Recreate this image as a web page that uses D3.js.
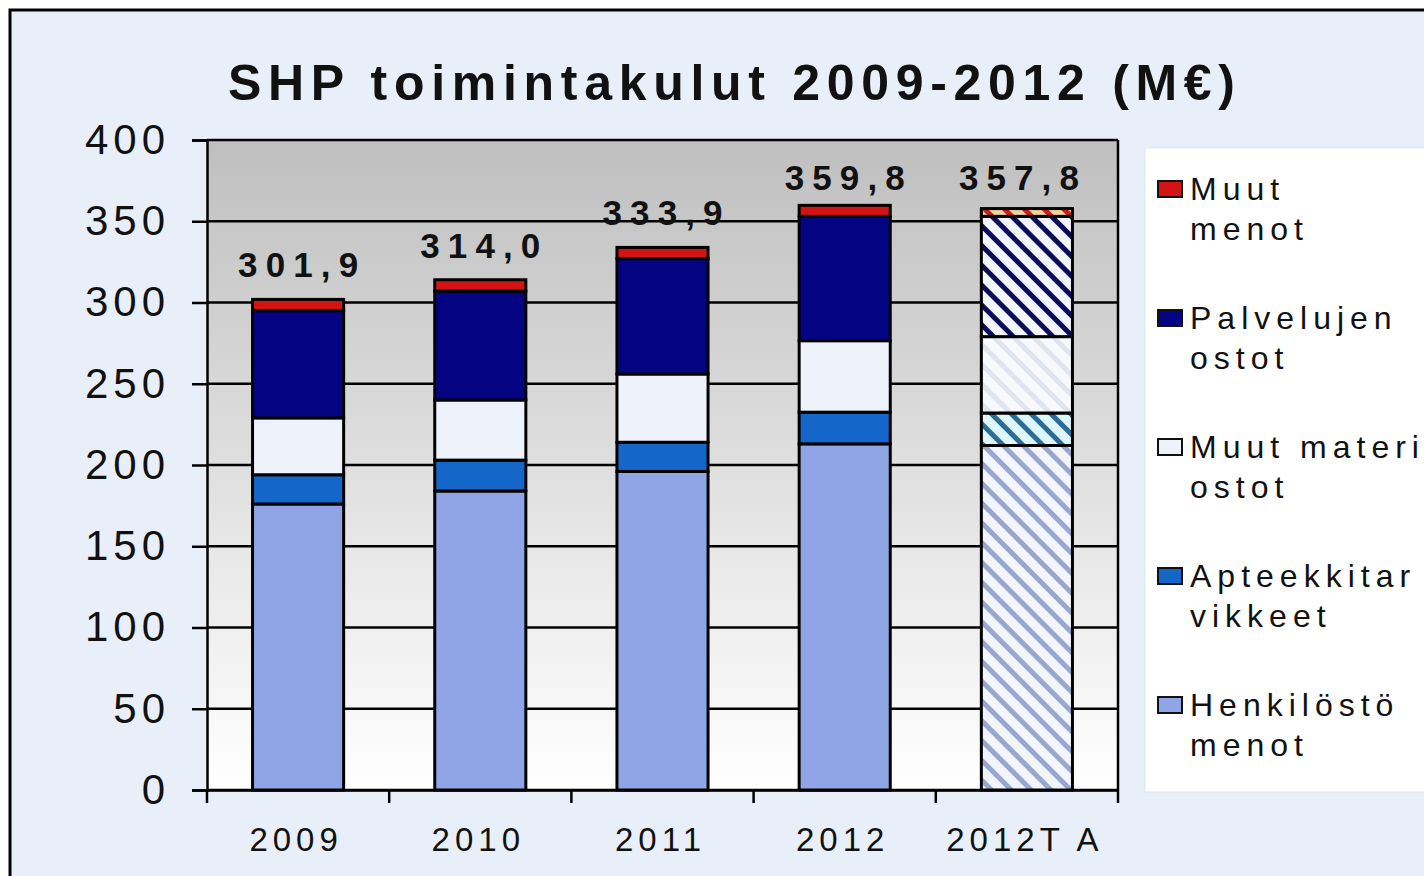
<!DOCTYPE html>
<html>
<head>
<meta charset="utf-8">
<script src="https://cdn.jsdelivr.net/npm/d3@7"></script>
<style>
  html, body { margin: 0; padding: 0; background: #ffffff; overflow: hidden; }
  svg { display: block; font-family: "Liberation Sans", Arial, sans-serif; }
</style>
</head>
<body>
<div id="graph"></div>
<script>
"use strict";
(function() {
    // --- data ---
    const categories = ["2009", "2010", "2011", "2012", "2012TA"];
    const henkilosto = [176, 184, 196, 213, 212];
    const apteekki   = [18, 19, 18, 19.5, 20];
    const muutMat    = [35, 37, 42, 44, 47];
    const palvelujen = [66, 67, 71, 76.5, 74];
    const muutMenot  = [6.9, 7, 6.9, 6.8, 4.8];
    const totals     = [301.9, 314.0, 333.9, 359.8, 357.8];
    const yTicks     = [0, 50, 100, 150, 200, 250, 300, 350, 400];

    const seriesKeys   = ["henk", "apt", "mat", "palv", "muut"];
    const seriesColors = ["#8fa5e6", "#1466c8", "#eef2fb", "#040482", "#d41414"];
    // hatch (stripe, background) used for the budget bar
    const hatchColors  = [["#98a7cf", "#f2f5fc"], ["#2c6c98", "#dcf6fb"], ["#dfe4ef", "#f7f9fd"],
                          ["#0b0b58", "#f3f5fc"], ["#c42020", "#f0d49a"]];
    const legendLines  = [["Muut", "menot"], ["Palvelujen", "ostot"], ["Muut materiaalien", "ostot"],
                          ["Apteekkitar", "vikkeet"], ["Henkilöstö", "menot"]];

    const W = 1424, H = 876;
    const plot = { left: 207, top: 140, right: 1118, bottom: 790 };

    window.addEventListener("load", init);

    function init() {
        const svg = d3.select("#graph").append("svg")
            .attr("width", W).attr("height", H);

        const defs = svg.append("defs");
        const grad = defs.append("linearGradient").attr("id", "plotBg")
            .attr("x1", 0).attr("y1", 0).attr("x2", 0).attr("y2", 1);
        grad.append("stop").attr("offset", "0%").attr("stop-color", "#bfbfbf");
        grad.append("stop").attr("offset", "100%").attr("stop-color", "#ffffff");

        hatchColors.forEach((c, i) => {
            const p = defs.append("pattern").attr("id", "hatch" + i)
                .attr("patternUnits", "userSpaceOnUse")
                .attr("width", 14).attr("height", 14)
                .attr("patternTransform", "rotate(-45)");
            p.append("rect").attr("width", 14).attr("height", 14).attr("fill", c[1]);
            p.append("rect").attr("width", 5).attr("height", 14).attr("fill", c[0]);
        });

        // outer frame
        svg.append("rect").attr("x", 10).attr("y", 10).attr("width", W).attr("height", H)
            .attr("fill", "#e9eff8").attr("stroke", "#000").attr("stroke-width", 3);

        // title
        svg.append("text").attr("x", 228).attr("y", 100)
            .attr("textLength", 1007).attr("lengthAdjust", "spacing")
            .attr("font-size", 50).attr("font-weight", "bold").attr("fill", "#111")
            .text("SHP toimintakulut 2009-2012 (M€)");

        const x = d3.scaleBand().domain(categories)
            .range([plot.left, plot.right]).paddingInner(0.5).paddingOuter(0.25);
        const y = d3.scaleLinear().domain([0, 400]).range([plot.bottom, plot.top]);

        svg.append("rect").attr("x", plot.left).attr("y", plot.top)
            .attr("width", plot.right - plot.left).attr("height", plot.bottom - plot.top)
            .attr("fill", "url(#plotBg)");

        // gridlines
        svg.append("g").selectAll("line").data(yTicks).join("line")
            .attr("x1", plot.left).attr("x2", plot.right)
            .attr("y1", d => y(d)).attr("y2", d => y(d))
            .attr("stroke", "#000").attr("stroke-width", 2.5);
        svg.append("line").attr("x1", plot.right).attr("x2", plot.right)
            .attr("y1", plot.top).attr("y2", plot.bottom)
            .attr("stroke", "#000").attr("stroke-width", 2.5);

        // stacked bars
        const rows = categories.map((c, i) => ({
            cat: c, henk: henkilosto[i], apt: apteekki[i], mat: muutMat[i],
            palv: palvelujen[i], muut: muutMenot[i]
        }));
        const stacked = d3.stack().keys(seriesKeys)(rows);

        svg.append("g").selectAll("g").data(stacked).join("g")
            .each(function(s, si) {
                d3.select(this).selectAll("rect").data(s).join("rect")
                    .attr("x", d => x(d.data.cat))
                    .attr("width", x.bandwidth())
                    .attr("y", d => y(d[1]))
                    .attr("height", d => y(d[0]) - y(d[1]))
                    .attr("fill", d => d.data.cat === "2012TA" ? "url(#hatch" + si + ")" : seriesColors[si])
                    .attr("stroke", "#000").attr("stroke-width", 3);
            });

        // total labels
        svg.append("g").selectAll("text").data(totals).join("text")
            .attr("x", (d, i) => x(categories[i]) + x.bandwidth() / 2 - (i === 4 ? 8 : 0))
            .attr("y", d => Math.max(y(d) - 22, 190))
            .attr("text-anchor", "middle")
            .attr("textLength", 120).attr("lengthAdjust", "spacing")
            .attr("font-size", 35).attr("font-weight", "bold").attr("fill", "#111")
            .text(d => d3.format(".1f")(d).replace(".", ","));

        // y axis
        const yAxis = svg.append("g").attr("transform", `translate(${plot.left},0)`)
            .call(d3.axisLeft(y).tickValues(yTicks).tickSize(15).tickPadding(22));
        yAxis.select(".domain").attr("stroke", "#000").attr("stroke-width", 2.5);
        yAxis.selectAll(".tick line").attr("stroke", "#000").attr("stroke-width", 2.5);
        yAxis.selectAll(".tick text").attr("font-size", 42).attr("fill", "#111")
            .attr("font-family", "Liberation Sans, Arial, sans-serif")
            .style("letter-spacing", "5px");

        // x axis
        const xAxis = svg.append("g").attr("transform", `translate(0,${plot.bottom})`)
            .call(d3.axisBottom(x).tickSize(0).tickPadding(38));
        xAxis.select(".domain").attr("stroke", "#000").attr("stroke-width", 2.5);
        xAxis.selectAll(".tick text").attr("font-size", 33).attr("fill", "#111")
            .attr("font-family", "Liberation Sans, Arial, sans-serif")
            .style("letter-spacing", "5px").attr("dx", -2)
            .text(d => d === "2012TA" ? "2012T A" : d);
        const bounds = d3.range(categories.length + 1).map(i => plot.left + i * x.step());
        xAxis.selectAll(".bound").data(bounds).join("line").attr("class", "bound")
            .attr("x1", d => d).attr("x2", d => d).attr("y1", 0).attr("y2", 13)
            .attr("stroke", "#000").attr("stroke-width", 2.5);

        // legend
        svg.append("rect").attr("x", 1145).attr("y", 148).attr("width", 300).attr("height", 644)
            .attr("fill", "#ffffff").attr("stroke", "#e2e8f1").attr("stroke-width", 1);
        const leg = svg.append("g").selectAll("g").data(legendLines).join("g")
            .attr("transform", (d, i) => `translate(1158,${200 + i * 129})`);
        leg.append("rect").attr("x", 0).attr("y", -19).attr("width", 24).attr("height", 16)
            .attr("fill", (d, i) => seriesColors[seriesColors.length - 1 - i])
            .attr("stroke", "#111").attr("stroke-width", 2);
        leg.append("text").attr("x", 32).attr("y", 0)
            .attr("font-size", 32).attr("fill", "#111").style("letter-spacing", "6px")
            .text(d => d[0]);
        leg.append("text").attr("x", 32).attr("y", 40)
            .attr("font-size", 32).attr("fill", "#111").style("letter-spacing", "6px")
            .text(d => d[1]);
    }
})();
</script>
</body>
</html>
